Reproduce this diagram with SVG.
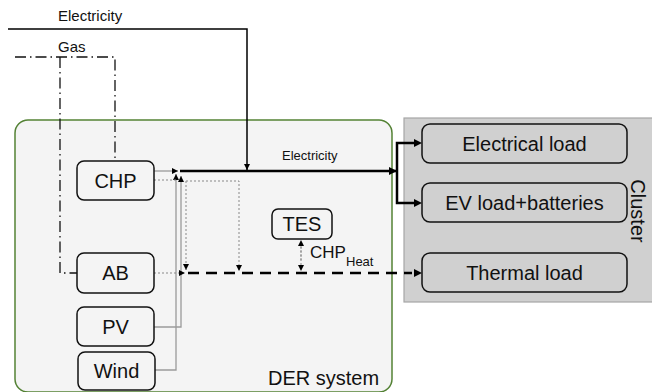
<svg xmlns="http://www.w3.org/2000/svg" width="652" height="392" viewBox="0 0 652 392">
<style>
text{font-family:"Liberation Sans",Arial,sans-serif;fill:#111}
.big{font-size:20px}
.sm{font-size:15px}
.node{fill:#f4f4f4;stroke:#111;stroke-width:1.5}
.cnode{fill:#d0d0d0;stroke:#111;stroke-width:1.5}
.gas{fill:none;stroke:#111;stroke-width:1.3;stroke-dasharray:11,4,1.5,4}
.gray{fill:none;stroke:#9a9a9a;stroke-width:1.3}
.dot{fill:none;stroke:#888;stroke-width:1;stroke-dasharray:2,2}
.elec{fill:none;stroke:#000;stroke-width:2.5}
.heat{fill:none;stroke:#000;stroke-width:2.5;stroke-dasharray:11,7}
.thin{fill:none;stroke:#000;stroke-width:1.5}
</style>
<defs>
<marker id="a" markerUnits="userSpaceOnUse" markerWidth="9" markerHeight="9" refX="8" refY="4" orient="auto"><path d="M0,0 L8,4 L0,8 z" fill="#000"/></marker>
<marker id="as" markerUnits="userSpaceOnUse" markerWidth="7" markerHeight="7" refX="6" refY="3" orient="auto"><path d="M0,0 L6,3 L0,6 z" fill="#000"/></marker>
</defs>
<g id="der-system">
<rect x="15" y="120" width="377" height="272" rx="13" fill="#f4f4f4" stroke="#548235" stroke-width="1.5"/>
<text class="big" x="268" y="385">DER system</text>
</g>
<g id="cluster">
<rect x="404" y="118" width="250" height="184" fill="#d0d0d0" stroke="#a6a6a6" stroke-width="1.2"/>
<text class="big" transform="translate(631,211) rotate(90)" text-anchor="middle">Cluster</text>
</g>
<g id="connectors">
<path class="gas" d="M15,57 H115 V161"/>
<path class="gas" d="M60,57 V273 H77"/>
<path class="thin" d="M8,29 H247 V170" marker-end="url(#as)"/>
<path class="gray" d="M154,171 H178" marker-end="url(#as)"/>
<path class="gray" d="M155,370 H176 V174" marker-end="url(#as)"/>
<path class="gray" d="M154,327 H181 V176" marker-end="url(#as)"/>
<path class="dot" d="M154,180 H176"/>
<path class="dot" d="M154,273 H185" marker-end="url(#as)"/>
<path class="dot" d="M186,181 H239 V271" marker-end="url(#as)"/>
<path class="dot" d="M186,181 V270" marker-end="url(#as)"/>
<path class="dot" d="M301,247 V271" marker-end="url(#as)"/>
<path class="dot" d="M301,260 V240" marker-end="url(#as)"/>
<path class="elec" d="M180,171 H397" marker-end="url(#a)"/>
<path class="elec" d="M415,143 H397 V203 H415"/>
<path d="M414,139 L422,143 L414,147 z M414,199 L422,203 L414,207 z" fill="#000"/>
<path class="heat" d="M188,273 H412"/>
<path d="M414,269 L422,273 L414,277 z" fill="#000"/>
</g>
<g id="chp"><rect class="node" x="77" y="161" width="77" height="39" rx="7"/><text class="big" x="115.5" y="188" text-anchor="middle">CHP</text></g>
<g id="ab"><rect class="node" x="77" y="253" width="77" height="40" rx="7"/><text class="big" x="115.5" y="280" text-anchor="middle">AB</text></g>
<g id="pv"><rect class="node" x="77" y="307" width="77" height="39" rx="7"/><text class="big" x="115.5" y="334" text-anchor="middle">PV</text></g>
<g id="wind"><rect class="node" x="78" y="352" width="77" height="38" rx="7"/><text class="big" x="116.5" y="378" text-anchor="middle">Wind</text></g>
<g id="tes"><rect class="node" x="272" y="209" width="60" height="30" rx="6"/><text class="big" x="302" y="231" text-anchor="middle">TES</text></g>
<g id="electrical-load"><rect class="cnode" x="422" y="124" width="205" height="39" rx="8"/><text class="big" x="524.5" y="151" text-anchor="middle">Electrical load</text></g>
<g id="ev-load"><rect class="cnode" x="422" y="183" width="205" height="39" rx="8"/><text class="big" x="524.5" y="210" text-anchor="middle">EV load+batteries</text></g>
<g id="thermal-load"><rect class="cnode" x="422" y="253" width="205" height="39" rx="8"/><text class="big" x="524.5" y="280" text-anchor="middle">Thermal load</text></g>
<g id="labels">
<text class="sm" x="58" y="21">Electricity</text>
<text class="sm" x="58" y="52">Gas</text>
<text x="282" y="160" font-size="13">Electricity</text>
<text x="310" y="258" font-size="17">CHP</text>
<text x="346" y="266" font-size="13">Heat</text>
</g>
</svg>
